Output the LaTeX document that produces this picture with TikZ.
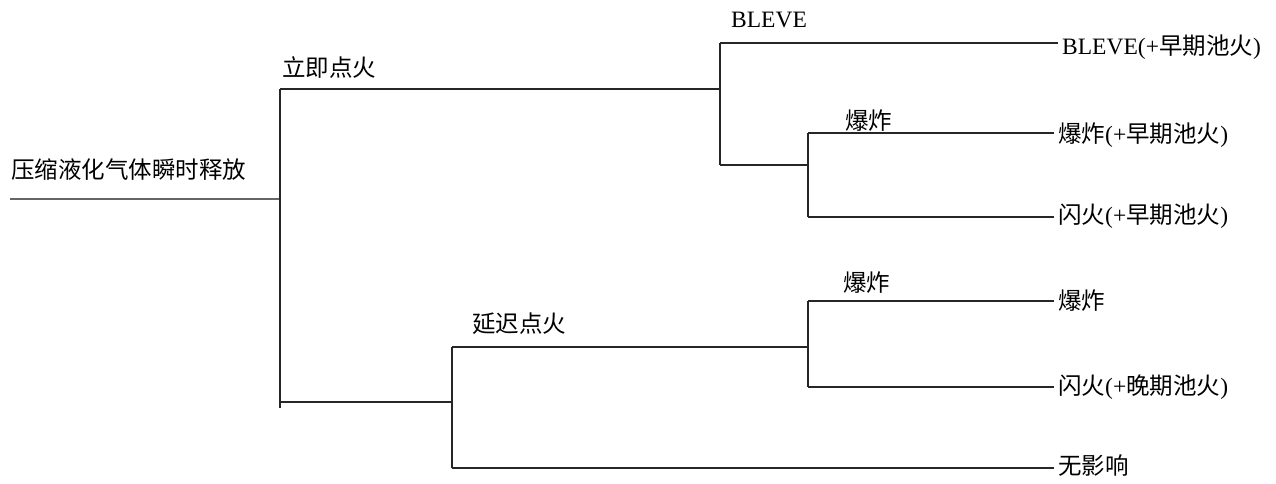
\documentclass[tikz,border=0pt]{standalone}
\usepackage{fontspec}
\setmainfont{Liberation Serif}
\newfontfamily\cjk{Noto Sans CJK SC}
\tikzset{
  lbl/.style={anchor=west,inner sep=0pt,font=\fontsize{23.5}{28}\selectfont},
  endlbl/.style={lbl,inner xsep=4pt},
  br/.style={line width=1.1pt,draw=black!85},
}
\begin{document}
\begin{tikzpicture}[x=1pt,y=-1pt]
\useasboundingbox (0,0) rectangle (1276,483);
% coordinates
\coordinate (r0) at (10,199);
\coordinate (r1) at (280,199);
\coordinate (vt) at (280,89);
\coordinate (vb) at (280,408);
\coordinate (a1) at (720,89);
\coordinate (a1t) at (720,43);
\coordinate (a1b) at (720,165);
\coordinate (b1) at (808,165);
\coordinate (b1t) at (808,133);
\coordinate (b1b) at (808,217);
\coordinate (d0) at (280,402);
\coordinate (d1) at (452,402);
\coordinate (d1t) at (452,347);
\coordinate (d1b) at (452,468);
\coordinate (e1) at (808,347);
\coordinate (e1t) at (808,301);
\coordinate (e1b) at (808,387);
% end labels
\node[endlbl] (o1) at (1058,47) {BLEVE(+{\cjk 早期池火})};
\node[endlbl] (o2) at (1054,135) {{\cjk 爆炸}(+{\cjk 早期池火})};
\node[endlbl] (o3) at (1054,216) {{\cjk 闪火}(+{\cjk 早期池火})};
\node[endlbl] (o4) at (1054,301) {{\cjk 爆炸}};
\node[endlbl] (o5) at (1054,387) {{\cjk 闪火}(+{\cjk 晚期池火})};
\node[endlbl] (o6) at (1054,466) {{\cjk 无影响}};
% branch labels
\node[lbl] (root) at (11,170) {\cjk 压缩液化气体瞬时释放};
\node[lbl] (l1) at (282,68) {\cjk 立即点火};
\node[lbl] (l2) at (731,20) {BLEVE};
\node[lbl] (l3) at (845,121) {\cjk 爆炸};
\node[lbl] (l4) at (472,324) {\cjk 延迟点火};
\node[lbl] (l5) at (843,283) {\cjk 爆炸};
% lines
\draw[br,draw=black!60,line width=1.3pt] (r0) -- (r1);
\draw[br] (vt) -- (vb);
\draw[br] (vt) -- (a1);
\draw[br] (a1t) -- (a1b);
\draw[br] (a1t) -- (a1t -| o1.west);
\draw[br] (a1b) -- (b1);
\draw[br] (b1t) -- (b1b);
\draw[br] (b1t) -- (b1t -| o2.west);
\draw[br] (b1b) -- (b1b -| o3.west);
\draw[br] (d0) -- (d1);
\draw[br] (d1t) -- (d1b);
\draw[br] (d1t) -- (e1);
\draw[br] (e1t) -- (e1b);
\draw[br] (e1t) -- (e1t -| o4.west);
\draw[br] (e1b) -- (e1b -| o5.west);
\draw[br] (d1b) -- (d1b -| o6.west);
\end{tikzpicture}
\end{document}
